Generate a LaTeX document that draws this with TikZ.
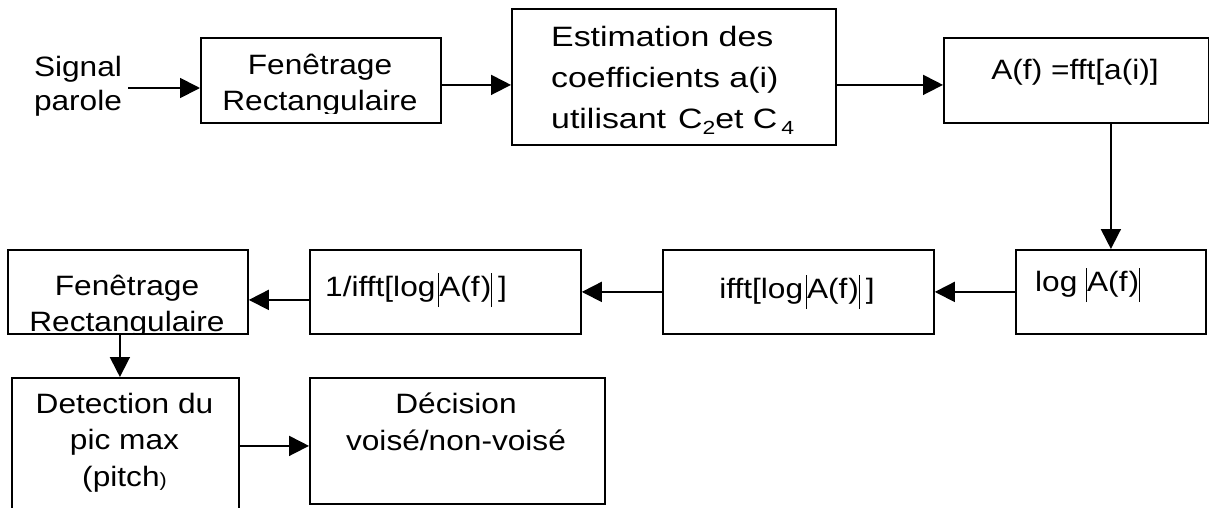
\documentclass[tikz,border=0pt]{standalone}
\usepackage{fontspec}
\setmainfont{Liberation Sans}[FakeStretch=1.13]
\newfontfamily\widesans{Liberation Sans}[FakeStretch=1.21]
\usetikzlibrary{arrows.meta}

% small lowered index, and the tall bars of an absolute value
\newcommand\sbs[1]{\raisebox{-6pt}{\fontsize{19}{19}\selectfont #1}}
\newcommand\absbar{\rule[-11pt]{0.9pt}{34pt}}

\begin{document}
\begin{tikzpicture}[x=1pt,y=-1pt,
  box/.style={draw, line width=1.8pt, inner sep=0pt, anchor=north west},
  lbl/.style={anchor=base, align=center, inner sep=0pt,
              font=\fontsize{28}{36}\selectfont},
  arr/.style={line width=1.8pt, -{Triangle[length=20pt,width=20pt]}}]
\fill[white] (0,0) rectangle (1209,507);
\useasboundingbox (0,0) rectangle (1209,507);

% processing blocks
\node[box, minimum width=240pt, minimum height=85pt]  (b1) at (200,37)  {};
\node[box, minimum width=324pt, minimum height=136pt] (b2) at (511,8)   {};
\node[box, minimum width=265pt, minimum height=85pt]  (b3) at (943,37)  {};
\node[box, minimum width=190pt, minimum height=84pt]  (b4) at (1015,249) {};
\node[box, minimum width=271pt, minimum height=84pt]  (b5) at (662,249) {};
\node[box, minimum width=271pt, minimum height=84pt]  (b6) at (309,249) {};
\node[box, minimum width=240pt, minimum height=84pt]  (b7) at (7,249)   {};
\node[box, minimum width=227pt, minimum height=150pt] (b8) at (11,377)  {};
\node[box, minimum width=295pt, minimum height=126pt] (b9) at (309,377) {};

% labels (the base anchor sits on the last line)
\node[lbl, font=\fontsize{28}{34}\selectfont] (sig) at (78,110) {Signal\\parole};
\begin{scope}
  \clip (200,37) rectangle (440,113);
  \node[lbl] (t1) at (320,110) {Fenêtrage\\Rectangulaire};
\end{scope}
\node[lbl, anchor=base west, align=left, font=\widesans\fontsize{28}{41}\selectfont] (t2) at (551,128)
  {Estimation des\\coefficients a(i)\\utilisant\hspace{12pt}C\sbs{2}et C\hspace{4pt}\sbs{4}};
\node[lbl] (t3) at (1075,79) {A(f) =fft[a(i)]};
\node[lbl, anchor=base west] (t4) at (1035,291) {log \absbar A(f\kern1pt)\absbar};
\node[lbl] (t5) at (797,298) {ifft[log\kern3pt\absbar A(f\kern1pt)\absbar\kern6pt]};
\node[lbl, anchor=base west] (t6) at (325,296) {1/ifft[log\kern3pt\absbar A(f\kern1pt)\absbar\kern6pt]};
\begin{scope}
  \clip (7,249) rectangle (247,332);
  \node[lbl] (t7) at (127,331) {Fenêtrage\\Rectangulaire};
\end{scope}
\node[lbl, font=\fontsize{28}{36.5}\selectfont] (t8) at (124.5,486)
  {Detection du\\pic max\\(pitch{\fontsize{19}{19}\selectfont )}};
\node[lbl, font=\fontsize{28}{37}\selectfont] (t9) at (456,450) {Décision\\voisé/non-voisé};

% connectors
\coordinate (sigout) at (128,88);
\draw[arr] (sigout) -- (sigout -| b1.west);
\path ([yshift=-4.5pt]b1.east) coordinate (a12);
\draw[arr] (a12) -- (a12 -| b2.west);
\path ([yshift=-4.5pt]b3.west) coordinate (a23);
\draw[arr] (a23 -| b2.east) -- (a23);
\draw[arr] (b4.north |- b3.south) -- (b4.north);
\draw[arr] (b4.west) -- (b4.west -| b5.east);
\draw[arr] (b5.west) -- (b5.west -| b6.east);
\path ([yshift=-8pt]b6.west) coordinate (a67);
\draw[arr] (a67) -- (a67 -| b7.east);
\path ([xshift=-8pt]b7.south) coordinate (a78);
\draw[arr] (a78) -- (a78 |- b8.north);
\path ([yshift=-5pt]b9.west) coordinate (a89);
\draw[arr] (a89 -| b8.east) -- (a89);
\end{tikzpicture}
\end{document}
